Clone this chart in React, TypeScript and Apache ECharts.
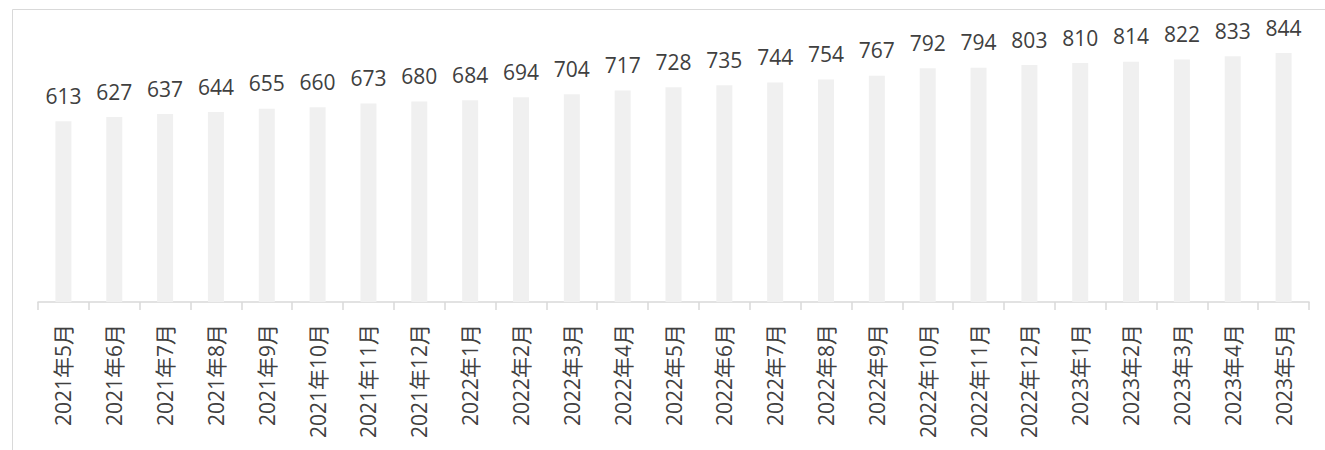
import React, { useEffect, useRef } from "react";
import * as echarts from "echarts";

const categories: string[] = [
  "2021年5月", "2021年6月", "2021年7月", "2021年8月", "2021年9月", "2021年10月",
  "2021年11月", "2021年12月", "2022年1月", "2022年2月", "2022年3月", "2022年4月",
  "2022年5月", "2022年6月", "2022年7月", "2022年8月", "2022年9月", "2022年10月",
  "2022年11月", "2022年12月", "2023年1月", "2023年2月", "2023年3月", "2023年4月",
  "2023年5月",
];

const values: number[] = [
  613, 627, 637, 644, 655, 660, 673, 680, 684, 694, 704, 717, 728, 735, 744, 754,
  767, 792, 794, 803, 810, 814, 822, 833, 844,
];

const yMin = 0;
const yMax = 1000;

const FONT = "'Open Sans', 'Noto Sans CJK JP', sans-serif";

export default function App() {
  const ref = useRef<HTMLDivElement>(null);

  useEffect(() => {
    if (!ref.current) return;
    const chart = echarts.init(ref.current, undefined, { renderer: "svg" });
    chart.setOption({
      animation: false,
      backgroundColor: "#ffffff",
      graphic: [
        {
          type: "rect",
          left: 10,
          top: 7,
          shape: { x: 0, y: 0, width: 1400, height: 500 },
          style: { fill: "none", stroke: "#d9d9d9", lineWidth: 1 },
          silent: true,
        },
      ],
      grid: { left: 38, right: 16, top: 7, bottom: 148, containLabel: false },
      xAxis: {
        type: "category",
        data: categories,
        axisLine: { show: true, lineStyle: { color: "#d9d9d9", width: 1.5 } },
        axisTick: { show: true, alignWithLabel: false, length: 8, lineStyle: { color: "#d9d9d9", width: 1.5 } },
        axisLabel: {
          interval: 0,
          rotate: 90,
          margin: 22,
          color: "#404040",
          fontSize: 21,
          fontFamily: FONT,
        },
        splitLine: { show: false },
      },
      yAxis: {
        type: "value",
        min: yMin,
        max: yMax,
        show: false,
        splitLine: { show: false },
      },
      series: [
        {
          type: "bar",
          data: values,
          barWidth: 16,
          itemStyle: { color: "#f0f0f0" },
          label: {
            show: true,
            position: "top",
            distance: 15,
            color: "#404040",
            fontSize: 21,
            fontFamily: FONT,
          },
        },
      ],
    });
    return () => chart.dispose();
  }, []);

  return (
    <div
      ref={ref}
      style={{ position: "absolute", left: 0, top: 0, width: 1325, height: 450 }}
    />
  );
}
